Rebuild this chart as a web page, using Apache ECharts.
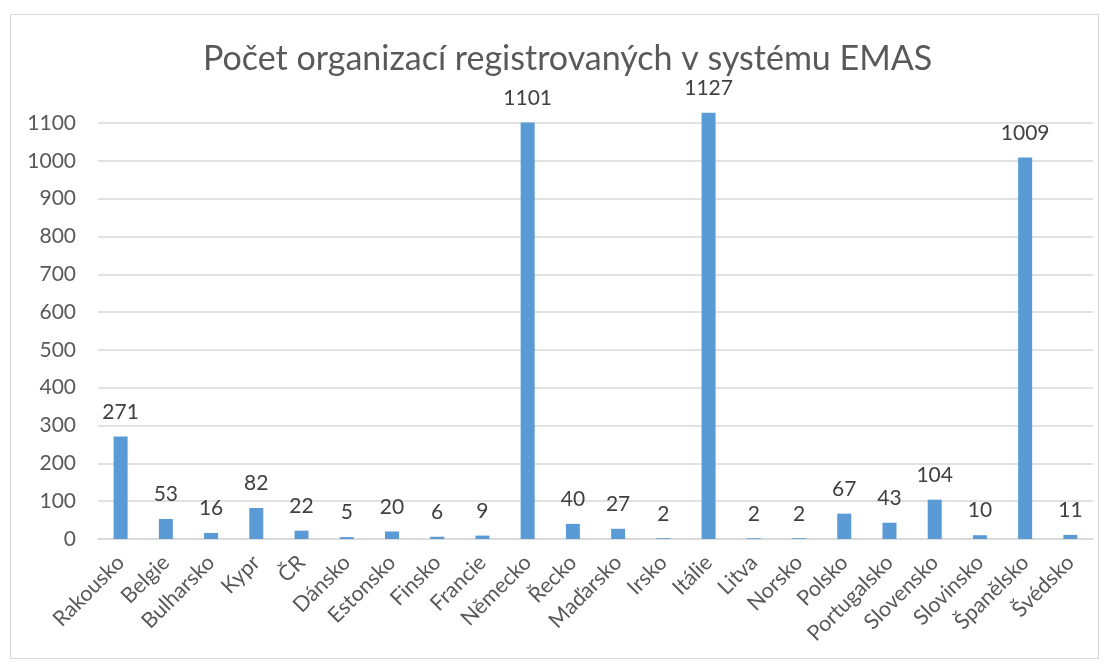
<!DOCTYPE html>
<html>
<head>
<meta charset="utf-8">
<script src="https://cdn.jsdelivr.net/npm/echarts@6/dist/echarts.min.js"></script>
<style>
  html, body { margin: 0; padding: 0; background: #fff; }
  #frame { position: absolute; left: 10px; top: 14px; width: 1089px; height: 645px; border: 1px solid #d9d9d9; box-sizing: border-box; }
  #chart { width: 1109px; height: 668px; }
</style>
</head>
<body>
<div id="frame"></div>
<div id="chart"></div>
<script>
// zeme a pocty registrovanych organizaci
const countries = ['Rakousko', 'Belgie', 'Bulharsko', 'Kypr', 'ČR', 'Dánsko', 'Estonsko', 'Finsko',
    'Francie', 'Německo', 'Řecko', 'Maďarsko', 'Irsko', 'Itálie', 'Litva', 'Norsko', 'Polsko',
    'Portugalsko', 'Slovensko', 'Slovinsko', 'Španělsko', 'Švédsko'];
const counts = [271, 53, 16, 82, 22, 5, 20, 6, 9, 1101, 40, 27, 2, 1127, 2, 2, 67, 43, 104, 10, 1009, 11];

const chart = echarts.init(document.getElementById('chart'));
const font = 'Lato, "Noto Sans", sans-serif';

chart.setOption({
    backgroundColor: 'transparent',
    animation: false,
    title: {
        text: 'Počet organizací registrovaných v systému EMAS',
        left: 198,
        top: 37,
        textStyle: { color: '#595959', fontSize: 34, fontWeight: 'normal', fontFamily: font }
    },
    grid: { left: 98, right: 16, top: 123, bottom: 129 },
    xAxis: {
        type: 'category',
        data: countries,
        axisLine: { lineStyle: { color: '#d9d9d9', width: 1.5 } },
        axisTick: { show: false },
        axisLabel: { color: '#595959', fontSize: 21.5, fontFamily: font, rotate: 45, interval: 0, margin: 20 }
    },
    yAxis: {
        type: 'value',
        min: 0,
        max: 1100,
        interval: 100,
        axisLine: { show: false },
        axisTick: { show: false },
        axisLabel: { color: '#595959', fontSize: 21, fontFamily: font, margin: 22, formatter: v => String(v) },
        splitLine: { lineStyle: { color: '#d9d9d9', width: 1.5 } }
    },
    series: [{
        type: 'bar',
        data: counts,
        barWidth: 14,
        clip: false,
        itemStyle: { color: '#5b9bd5' },
        label: {
            show: true,
            position: 'top',
            distance: 14,
            color: '#404040',
            fontSize: 21,
            fontFamily: font
        }
    }]
});
</script>
</body>
</html>
